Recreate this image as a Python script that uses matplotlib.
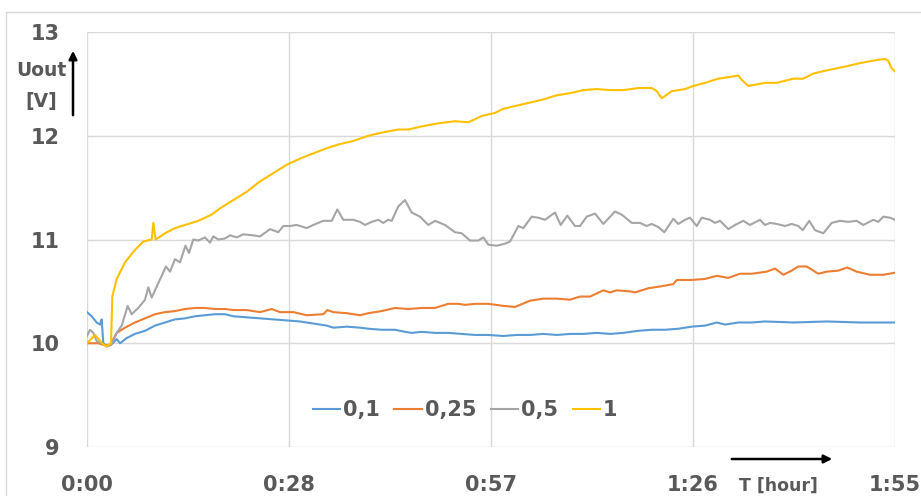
import matplotlib
matplotlib.use("Agg")
import matplotlib.pyplot as plt
from matplotlib.patches import Rectangle, FancyArrowPatch
from matplotlib import font_manager

# ---------------- data (time in minutes, voltage in V) ----------------
t_01 = [0, 0.67, 1.38, 1.85, 2.09, 2.32, 2.80, 3.52, 4.23, 4.70, 5.65, 6.83, 8.26, 9.68,
        11.10, 12.52, 13.95, 15.37, 16.79, 18.22, 19.64, 20.82, 22.73, 24.62, 26.52, 28.42,
        30.32, 32.21, 34.12, 35.06, 36.96, 38.86, 40.04, 41.94, 43.84, 45.26, 46.21, 47.64,
        49.53, 51.42, 53.33, 55.22, 57.12, 59.25, 61.16, 63.05, 64.95, 66.85, 68.75, 70.64,
        72.55, 74.44, 76.33, 78.47, 80.37, 82.28, 84.16, 86.07, 87.96, 89.63, 90.81, 92.70,
        94.61, 96.50, 100.53, 105.28, 110.02, 115.0]
v_01 = [10.30, 10.26, 10.20, 10.18, 10.23, 10.00, 9.97, 9.99, 10.04, 10.00, 10.05, 10.09,
        10.12, 10.17, 10.20, 10.23, 10.24, 10.26, 10.27, 10.28, 10.28, 10.26, 10.25, 10.24,
        10.23, 10.22, 10.21, 10.19, 10.17, 10.15, 10.16, 10.15, 10.14, 10.13, 10.13, 10.11,
        10.10, 10.11, 10.10, 10.10, 10.09, 10.08, 10.08, 10.07, 10.08, 10.08, 10.09, 10.08,
        10.09, 10.09, 10.10, 10.09, 10.10, 10.12, 10.13, 10.13, 10.14, 10.16, 10.17, 10.20,
        10.18, 10.20, 10.20, 10.21, 10.20, 10.21, 10.20, 10.20]

t_025 = [0, 1.61, 2.56, 3.27, 4.23, 5.41, 6.83, 8.26, 9.68, 11.10, 12.52, 13.95, 15.37,
         16.79, 18.22, 19.64, 20.82, 22.73, 24.62, 26.29, 27.47, 29.36, 31.27, 33.63, 34.20,
         35.06, 36.96, 38.86, 40.04, 41.94, 43.84, 45.73, 47.64, 49.53, 51.42, 52.85, 53.80,
         55.22, 57.12, 59.25, 60.92, 63.05, 64.95, 66.85, 68.75, 70.17, 71.59, 73.49, 74.44,
         75.39, 77.29, 78.00, 79.89, 81.80, 83.45, 83.94, 86.07, 87.96, 89.63, 91.28, 92.94,
         94.61, 96.74, 97.92, 99.11, 100.30, 101.24, 102.43, 104.08, 105.28, 106.93, 108.21,
         109.55, 111.44, 113.34, 115.0]
v_025 = [10.00, 10.00, 9.98, 9.98, 10.10, 10.15, 10.20, 10.24, 10.28, 10.30, 10.31, 10.33,
         10.34, 10.34, 10.33, 10.33, 10.32, 10.32, 10.30, 10.33, 10.30, 10.30, 10.27, 10.28,
         10.32, 10.30, 10.29, 10.27, 10.29, 10.31, 10.34, 10.33, 10.34, 10.34, 10.38, 10.38,
         10.37, 10.38, 10.38, 10.36, 10.35, 10.41, 10.43, 10.43, 10.42, 10.45, 10.45, 10.51,
         10.49, 10.51, 10.50, 10.49, 10.53, 10.55, 10.57, 10.61, 10.61, 10.62, 10.65, 10.63,
         10.67, 10.67, 10.69, 10.72, 10.66, 10.70, 10.74, 10.74, 10.67, 10.69, 10.70, 10.73,
         10.69, 10.66, 10.66, 10.68]

t_05 = [0, 0.43, 0.90, 1.38, 2.09, 2.80, 3.52, 4.23, 4.94, 5.79, 6.36, 7.30, 8.26, 8.72,
        9.21, 10.15, 11.24, 11.81, 12.52, 13.24, 14.02, 14.52, 15.13, 15.84, 16.79, 17.51,
        17.98, 18.69, 19.64, 20.35, 21.31, 22.25, 23.67, 24.62, 26.05, 27.23, 27.94, 28.89,
        29.85, 31.27, 32.21, 33.63, 34.83, 35.63, 36.48, 37.90, 38.86, 39.57, 40.52, 41.46,
        42.17, 42.88, 43.37, 44.31, 45.26, 46.21, 47.40, 48.58, 49.53, 50.95, 52.38, 53.33,
        54.51, 55.69, 56.41, 57.12, 58.31, 59.49, 60.21, 61.39, 62.10, 63.29, 64.23, 65.19,
        66.61, 67.42, 68.36, 69.46, 70.17, 71.12, 72.30, 73.49, 75.15, 76.10, 77.53, 78.71,
        79.66, 80.37, 81.31, 82.17, 83.45, 84.16, 85.11, 85.82, 86.78, 87.49, 88.67, 89.38,
        90.10, 91.28, 92.23, 93.41, 94.36, 95.78, 96.50, 97.21, 98.16, 99.35, 100.30, 101.24,
        101.86, 102.80, 103.61, 104.80, 105.99, 107.17, 108.36, 109.55, 110.49, 111.92,
        112.63, 113.34, 114.29, 115.0]
v_05 = [10.07, 10.13, 10.10, 10.02, 10.00, 9.97, 9.99, 10.10, 10.17, 10.36, 10.28, 10.34,
        10.42, 10.54, 10.44, 10.58, 10.74, 10.69, 10.81, 10.78, 10.94, 10.87, 11.00, 10.99,
        11.02, 10.97, 11.03, 11.00, 11.01, 11.04, 11.02, 11.05, 11.04, 11.03, 11.10, 11.07,
        11.13, 11.13, 11.14, 11.11, 11.14, 11.18, 11.18, 11.29, 11.19, 11.19, 11.17, 11.14,
        11.17, 11.19, 11.16, 11.19, 11.18, 11.32, 11.38, 11.26, 11.22, 11.14, 11.18, 11.14,
        11.07, 11.06, 10.99, 10.99, 11.02, 10.95, 10.94, 10.96, 10.98, 11.13, 11.11, 11.22,
        11.21, 11.19, 11.26, 11.14, 11.23, 11.13, 11.13, 11.22, 11.25, 11.15, 11.27, 11.24,
        11.16, 11.16, 11.13, 11.15, 11.12, 11.07, 11.20, 11.15, 11.19, 11.21, 11.13, 11.21,
        11.19, 11.16, 11.18, 11.10, 11.14, 11.18, 11.14, 11.19, 11.14, 11.16, 11.15, 11.13,
        11.15, 11.13, 11.09, 11.18, 11.09, 11.06, 11.16, 11.18, 11.17, 11.18, 11.14, 11.19,
        11.17, 11.22, 11.21, 11.19]

t_1 = [0, 1.14, 2.28, 2.80, 3.42, 3.60, 4.23, 5.41, 6.83, 8.01, 9.21, 9.44, 9.78, 11.10,
       12.52, 13.95, 15.84, 17.75, 18.93, 20.82, 22.73, 24.62, 26.52, 28.42, 30.32, 32.21,
       34.12, 36.01, 37.90, 40.04, 41.94, 44.31, 45.73, 47.64, 50.00, 52.38, 54.27, 56.18,
       58.07, 59.25, 61.16, 63.05, 64.95, 66.85, 68.75, 70.64, 72.55, 74.44, 76.33, 78.47,
       80.37, 81.09, 81.80, 83.22, 85.11, 86.30, 87.96, 89.85, 92.70, 93.18, 94.12, 96.50,
       98.16, 100.53, 101.95, 103.37, 105.28, 108.12, 110.02, 112.40, 113.58, 114.05,
       114.53, 115.0]
v_1 = [10.00, 10.08, 9.99, 9.97, 10.00, 10.45, 10.62, 10.78, 10.90, 10.98, 11.00, 11.16,
       11.00, 11.06, 11.11, 11.14, 11.18, 11.24, 11.30, 11.38, 11.46, 11.56, 11.64, 11.72,
       11.78, 11.83, 11.88, 11.92, 11.95, 12.00, 12.03, 12.06, 12.06, 12.09, 12.12, 12.14,
       12.13, 12.19, 12.22, 12.26, 12.29, 12.32, 12.35, 12.39, 12.41, 12.44, 12.45, 12.44,
       12.44, 12.46, 12.46, 12.43, 12.36, 12.43, 12.45, 12.48, 12.51, 12.55, 12.58, 12.54,
       12.48, 12.51, 12.51, 12.55, 12.55, 12.60, 12.63, 12.67, 12.70, 12.73, 12.74, 12.72,
       12.65, 12.62]

series_names = ["0,1", "0,25", "0,5", "1"]
series_colors = ["#5B9BD5", "#ED7D31", "#A5A5A5", "#FFC000"]

x_ticks = [0, 28.75, 57.5, 86.25, 115]
x_tick_labels = ["0:00", "0:28", "0:57", "1:26", "1:55"]
y_ticks = [9, 10, 11, 12, 13]

# ---------------- figure ----------------
W, H = 921, 496
fig = plt.figure(figsize=(W / 100, H / 100), dpi=100)
fig.patch.set_facecolor("white")

TXT = "#595959"


def fp(size):
    return font_manager.FontProperties(family="DejaVu Sans", weight="bold", size=size)


# outer chart border (light gray)
fig.add_artist(Rectangle((6 / W, -0.1), 1.2, (H - 12) / H + 0.1, transform=fig.transFigure,
                         fill=False, edgecolor="#D9D9D9", lw=1.0))

ax = fig.add_axes([87 / W, 1 - 447 / H, (895 - 87) / W, (447 - 32) / H])

for t, v, n, c in zip([t_01, t_025, t_05, t_1], [v_01, v_025, v_05, v_1],
                      series_names, series_colors):
    ax.plot(t, v, color=c, lw=1.5, label=n, solid_joinstyle="round")

ax.set_xlim(x_ticks[0], x_ticks[-1])
ax.set_ylim(y_ticks[0], y_ticks[-1])
ax.set_xticks(x_ticks)
ax.set_xticklabels(x_tick_labels, fontproperties=fp(15), color=TXT)
ax.set_yticks(y_ticks)
ax.set_yticklabels([str(y) for y in y_ticks], fontproperties=fp(15), color=TXT)

for s in ax.spines.values():
    s.set_visible(False)
ax.grid(True, color="#D9D9D9", lw=1.0)
ax.set_axisbelow(True)
ax.tick_params(axis="both", length=0)
ax.tick_params(axis="x", pad=20)
ax.tick_params(axis="y", pad=19.5)

# legend
leg = ax.legend(loc="center", bbox_to_anchor=(465 / W, 1 - 410 / H),
                bbox_transform=fig.transFigure, ncol=4, frameon=False,
                handlelength=1.3, handletextpad=0.15, columnspacing=0.7,
                prop=fp(15))
for txt in leg.get_texts():
    txt.set_color(TXT)
for line in leg.get_lines():
    line.set_linewidth(1.5)

# axis titles
fig.text(41 / W, 1 - 70 / H, "Uout", ha="center", va="center",
         fontproperties=fp(13.5), color=TXT)
fig.text(41 / W, 1 - 101 / H, "[V]", ha="center", va="center",
         fontproperties=fp(13.5), color=TXT)
fig.text(778 / W, 1 - 486 / H, "T [hour]", ha="center", va="center",
         fontproperties=fp(12.5), color=TXT)

# arrows
fig.add_artist(FancyArrowPatch(
    (73 / W, 1 - 118 / H), (73 / W, 1 - 48 / H), transform=fig.transFigure,
    arrowstyle="-|>", mutation_scale=12, color="black", lw=1.8))
fig.add_artist(FancyArrowPatch(
    (729 / W, 1 - 459 / H), (835 / W, 1 - 459 / H), transform=fig.transFigure,
    arrowstyle="-|>", mutation_scale=12, color="black", lw=1.8))

fig.savefig("out.png", dpi=100, facecolor="white")
